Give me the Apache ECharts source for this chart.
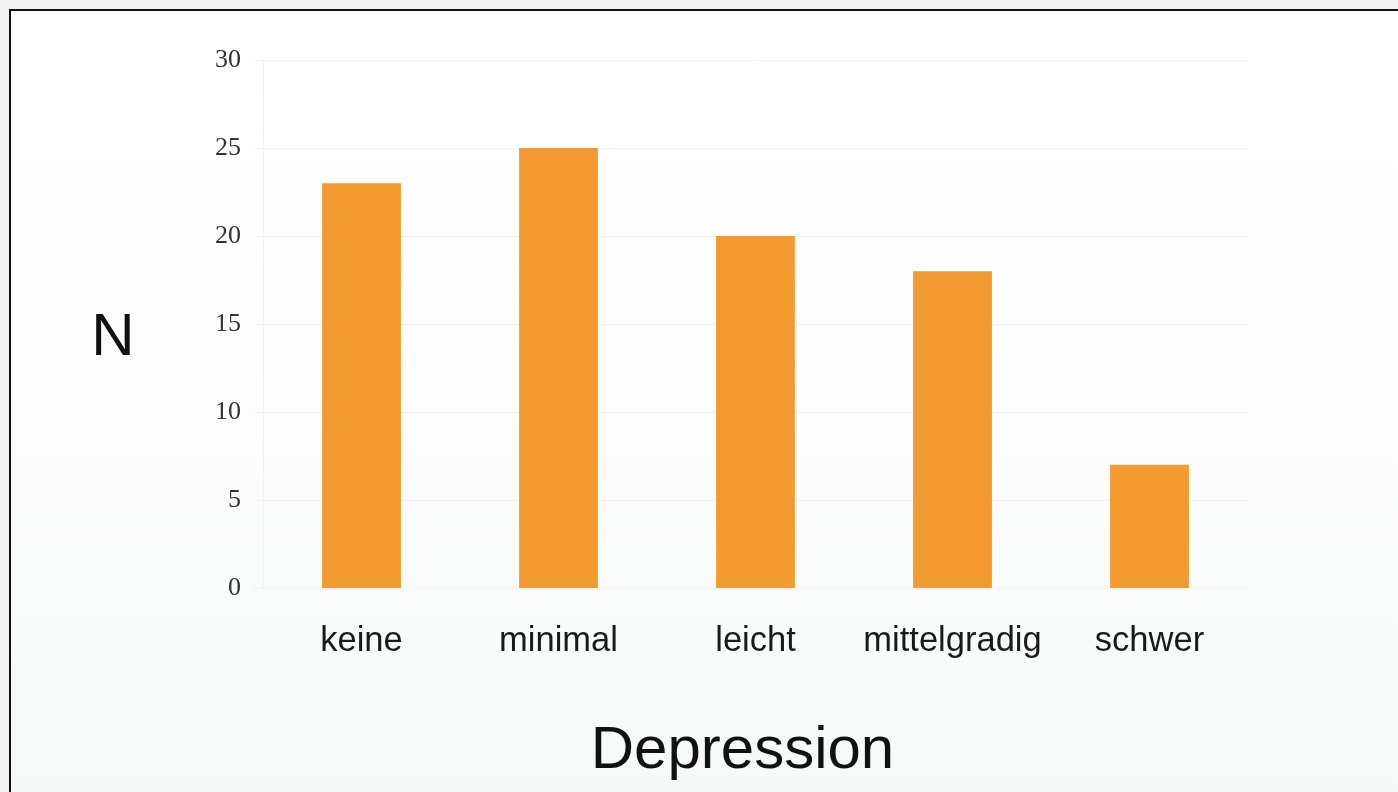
<!DOCTYPE html>
<html>
<head>
<meta charset="utf-8">
<script src="https://cdn.jsdelivr.net/npm/echarts@6/dist/echarts.min.js"></script>
<style>
  html, body { margin: 0; padding: 0; width: 1398px; height: 792px; overflow: hidden; background: #f3f3f3; }
  #frame {
    position: absolute; left: 9px; top: 9px; right: 0; bottom: 0;
    border-left: 2px solid #111; border-top: 2px solid #111;
    background: linear-gradient(to bottom, #ffffff 0%, #fdfdfd 50%, #f7f8f8 100%);
  }
  #chart { position: absolute; left: 0; top: 0; width: 1398px; height: 792px; }
</style>
</head>
<body>
<div id="frame"></div>
<div id="chart"></div>
<script>
// Severity of depression and number of cases per group
const categories = ['keine', 'minimal', 'leicht', 'mittelgradig', 'schwer'];
const counts = [23, 25, 20, 18, 7];
const yTicks = [0, 5, 10, 15, 20, 25, 30];

const chart = echarts.init(document.getElementById('chart'));
chart.setOption({
  backgroundColor: 'transparent',
  animation: false,
  grid: { left: 263, right: 150, top: 60, bottom: 204, containLabel: false },
  xAxis: {
    type: 'category',
    data: categories,
    name: 'Depression',
    nameLocation: 'middle',
    nameGap: 133,
    nameTextStyle: { fontFamily: 'Liberation Sans', fontSize: 60, color: '#111', padding: [0, 26, 0, 0] },
    axisLine: { show: true, lineStyle: { color: '#f4f4f4' } },
    axisTick: { show: false },
    axisLabel: {
      interval: 0,
      fontFamily: 'Liberation Sans',
      fontSize: 34.5, color: '#1a1a1a', margin: 36
    }
  },
  yAxis: {
    type: 'value',
    min: yTicks[0],
    max: yTicks[yTicks.length - 1],
    interval: 5,
    name: 'N',
    nameLocation: 'middle',
    nameRotate: 0,
    nameGap: 150,
    nameTextStyle: { fontFamily: 'Liberation Sans', fontSize: 60, color: '#111', align: 'center', verticalAlign: 'top', lineHeight: 28 },
    axisLine: { show: true, lineStyle: { color: '#f2f2f2' } },
    axisTick: { show: true, length: 8, lineStyle: { color: '#f2f2f2' } },
    splitLine: { show: true, lineStyle: { color: '#f2f2f2' } },
    axisLabel: { fontFamily: 'Liberation Serif', fontSize: 26, color: '#333', margin: 22, padding: [2, 0, 0, 0] }
  },
  series: [{
    type: 'bar',
    data: counts,
    barWidth: '40%',
    itemStyle: { color: '#F39A31' }
  }]
});
</script>
</body>
</html>
